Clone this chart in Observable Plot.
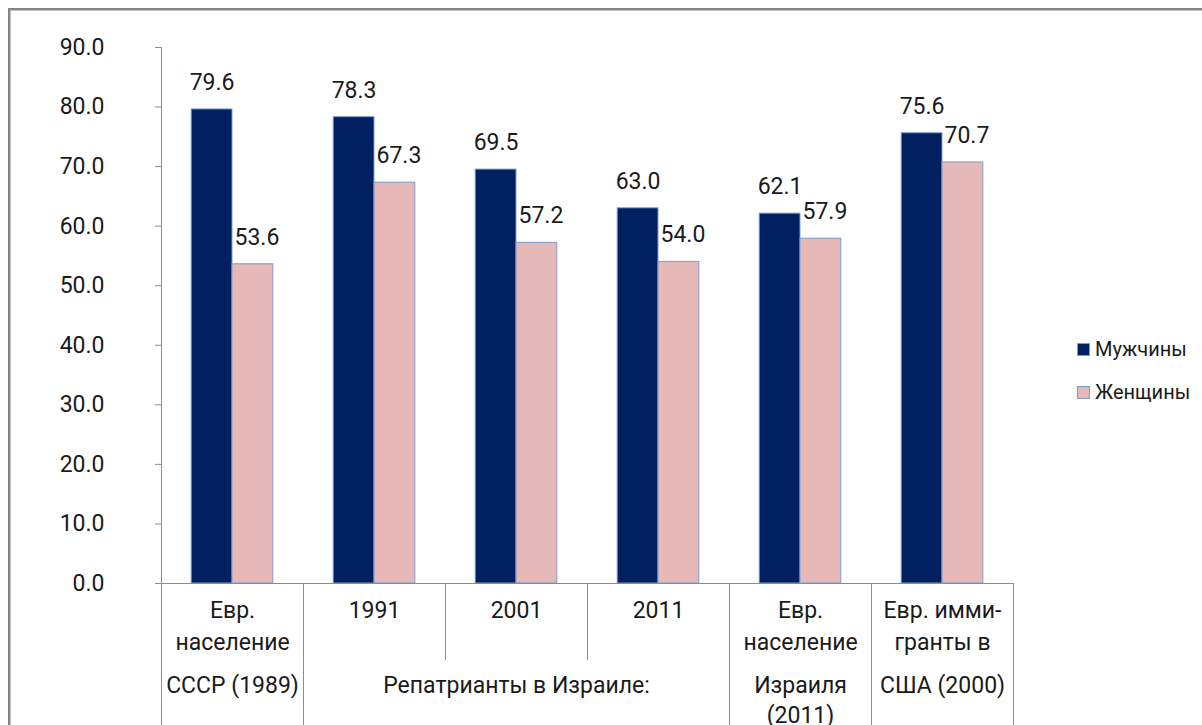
<!DOCTYPE html>
<html><head><meta charset="utf-8">
<script src="https://cdn.jsdelivr.net/npm/d3@7"></script>
<script src="https://cdn.jsdelivr.net/npm/@observablehq/plot@0.6"></script>
<style>
body{margin:0;background:#fff;}
#wrap{position:relative;width:1202px;height:725px;overflow:hidden;background:#fff;}
#border{position:absolute;left:8px;top:8px;width:1400px;height:900px;border-left:2px solid #858585;border-top:2px solid #858585;box-shadow:inset 1px 1px 0 #c4c4c4;}
#chart{position:absolute;left:0;top:0;}
#legend{position:absolute;left:1077px;top:339px;font-family:Roboto,sans-serif;font-size:20px;color:#1a1a1a;}
#legend .item{display:flex;align-items:center;height:20px;margin-bottom:23px;}
#legend .sw{width:11px;height:11px;border:1px solid #7A9CD0;margin-right:5px;}
</style>
</head><body>
<div id="wrap"><div id="border"></div><div id="chart"></div><div id="legend"></div></div>
<script>
// ---- data ----
const categories = ["СССР 1989", "Репатрианты 1991", "Репатрианты 2001", "Репатрианты 2011", "Израиль 2011", "США 2000"];
const level1 = ["Евр.\nнаселение", "1991", "2001", "2011", "Евр.\nнаселение", "Евр. имми-\nгранты в"];
const level2 = ["СССР (1989)", "Репатрианты в Израиле:", "Израиля\n(2011)", "США (2000)"];
const level2Span = [[0, 0], [1, 3], [4, 4], [5, 5]];
const series = ["Мужчины", "Женщины"];
const men = [79.6, 78.3, 69.5, 63.0, 62.1, 75.6];
const women = [53.6, 67.3, 57.2, 54.0, 57.9, 70.7];
const yTicks = [0, 10, 20, 30, 40, 50, 60, 70, 80, 90];
const colors = ["#002060", "#E6B9B8"];

// ---- derived tables ----
const GAP = 0.74;             // gap (in bar widths) on each side of a group
const XMIN = -GAP, XMAX = 2 + GAP;
const bars = [];
categories.forEach((c, i) => {
  [men, women].forEach((arr, si) => bars.push({cat: c, series: series[si], si, value: arr[i]}));
});
const l1 = categories.map((c, i) => ({cat: c, text: level1[i]}));
const l2 = level2.map((t, k) => ({cat: categories[Math.round((level2Span[k][0] + level2Span[k][1]) / 2)], text: t}));
const spanStarts = new Set(level2Span.map(s => s[0]));
const seps = categories.map((c, i) => ({cat: c, x: XMIN, long: spanStarts.has(i), top: i === 0 ? d3.max(yTicks) : 0}));
seps.push({cat: categories[categories.length - 1], x: XMAX, long: true, top: 0});

const gray = "#8c8c8c";
const txt = "#1a1a1a";
const FS = 23;

const chart = Plot.plot({
  width: 1202, height: 725,
  marginLeft: 158, marginRight: 187, marginTop: 47, marginBottom: 142,
  style: {fontFamily: "Roboto, sans-serif", background: "transparent", overflow: "visible"},
  fx: {domain: categories, padding: 0, axis: null},
  x: {domain: [XMIN, XMAX], axis: null},
  y: {domain: [0, 90]},
  color: {domain: series, range: colors},
  marks: [
    Plot.rectY(bars, {fx: "cat", x1: "si", x2: d => d.si + 1, y1: 0, y2: "value", fill: "series", stroke: "#7A9CD0", strokeWidth: 1}),
    Plot.ruleY([0], {stroke: gray}),
    Plot.ruleX(seps.filter(d => d.long), {fx: "cat", x: "x", y1: "top", y2: 0, insetBottom: -142, stroke: gray}),
    Plot.ruleX(seps.filter(d => !d.long), {fx: "cat", x: "x", y1: "top", y2: 0, insetBottom: -77, stroke: gray}),
    Plot.axisY(yTicks, {tickSize: 6, tickPadding: 51, tickFormat: d3.format(".1f"), stroke: gray, fill: txt, fontSize: FS, label: null}),
    Plot.text(bars.filter(d => d.si === 0), {fx: "cat", x: d => d.si + 0.5, y: "value", text: d => d.value.toFixed(1), dy: -27, fontSize: FS, fill: txt}),
    Plot.text(bars.filter(d => d.si === 1), {fx: "cat", x: d => d.si + 0.5, y: "value", text: d => d.value.toFixed(1), dy: -27, dx: 4, fontSize: FS, fill: txt}),
    Plot.text(l1, {fx: "cat", text: "text", frameAnchor: "bottom", lineAnchor: "top", dy: 12, lineHeight: 1.39, fontSize: FS, fill: txt}),
    Plot.text(l2, {fx: "cat", text: "text", frameAnchor: "bottom", lineAnchor: "top", dy: 88, lineHeight: 1.3, fontSize: FS, fill: txt})
  ]
});
document.getElementById("chart").appendChild(chart);

const legend = document.getElementById("legend");
series.forEach((s, i) => {
  const it = document.createElement("div");
  it.className = "item";
  const sw = document.createElement("div");
  sw.className = "sw";
  sw.style.background = colors[i];
  const lab = document.createElement("span");
  lab.textContent = s;
  it.appendChild(sw); it.appendChild(lab);
  legend.appendChild(it);
});
</script>
</body></html>
